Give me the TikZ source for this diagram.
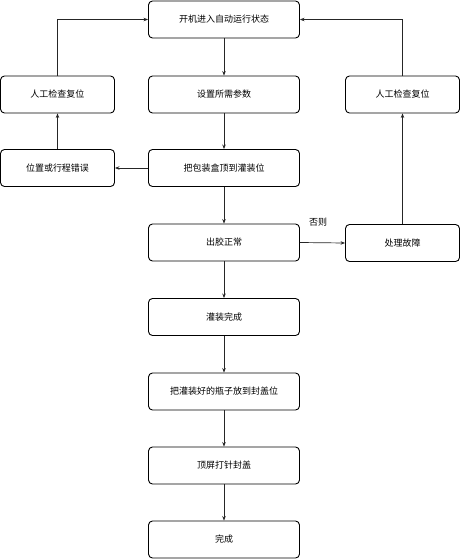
\documentclass[tikz,border=0pt]{standalone}
\usepackage{fontspec}
\setmainfont{Noto Sans CJK SC}
\usetikzlibrary{arrows.meta}
\begin{document}
\begin{tikzpicture}[x=1pt,y=-1pt,
  box/.style={draw=black,line width=0.9pt,rounded corners=4pt,minimum width=151pt,minimum height=37pt,inner sep=0pt,font=\fontsize{9}{11}\selectfont},
  sbox/.style={box,minimum width=114pt},
  lbl/.style={inner sep=0pt,font=\fontsize{9}{11}\selectfont},
  arr/.style={draw=black!85,line width=0.7pt,-{Stealth[length=4.5pt,width=3.5pt]}}]
\useasboundingbox (0,0) rectangle (461,560);
\node[box] (a) at (224,19.5) {开机进入自动运行状态};
\node[box] (b) at (224,94.5) {设置所需参数};
\node[box] (c) at (224,168) {把包装盒顶到灌装位};
\node[box] (d) at (224,242.5) {出胶正常};
\node[box] (e) at (224,317) {灌装完成};
\node[box] (f) at (224,391.5) {把灌装好的瓶子放到封盖位};
\node[box] (g) at (224,465.5) {顶屏打针封盖};
\node[box] (h) at (224,539.5) {完成};
\node[sbox] (l1) at (57.5,94.5) {人工检查复位};
\node[sbox] (l2) at (57.5,168) {位置或行程错误};
\node[sbox] (r1) at (402.5,94.5) {人工检查复位};
\node[sbox] (r2) at (402.5,243) {处理故障};
\node[lbl] (no) at (318,222) {否则};
\draw[arr] (a) -- (b);
\draw[arr] (b) -- (c);
\draw[arr] (c) -- (d);
\draw[arr] (d) -- (e);
\draw[arr] (e) -- (f);
\draw[arr] (f) -- (g);
\draw[arr] (g) -- (h);
\draw[arr] (c) -- (l2);
\draw[arr] (l2) -- (l1);
\draw[arr] (l1.north) |- (a.west);
\draw[arr] (d.east) -- (r2.west);
\draw[arr] (r2) -- (r1);
\draw[arr] (r1.north) |- (a.east);
\end{tikzpicture}
\end{document}
